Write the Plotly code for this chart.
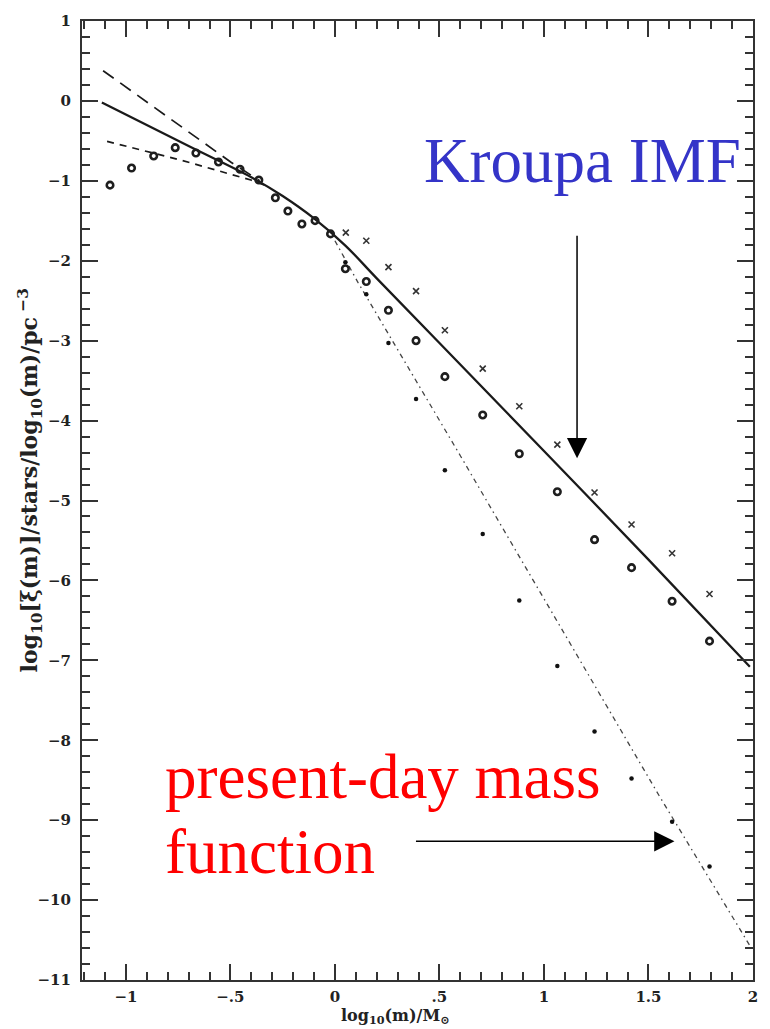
import plotly.graph_objects as go

# ---------------- data ----------------
circ_x = [-1.076, -0.973, -0.867, -0.764, -0.665, -0.557, -0.454, -0.364, -0.285, -0.225,
          -0.158, -0.095, -0.021, 0.05, 0.15, 0.256, 0.388, 0.526, 0.707, 0.882,
          1.064, 1.242, 1.419, 1.613, 1.792]
circ_y = [-1.054, -0.84, -0.689, -0.585, -0.652, -0.764, -0.855, -0.99, -1.212, -1.378,
          -1.54, -1.498, -1.664, -2.10, -2.26, -2.62, -3.0, -3.45, -3.93, -4.415,
          -4.89, -5.49, -5.84, -6.26, -6.76]

cross_x = [0.052, 0.15, 0.256, 0.388, 0.526, 0.707, 0.882, 1.064, 1.242, 1.419, 1.613, 1.792]
cross_y = [-1.648, -1.75, -2.08, -2.38, -2.87, -3.35, -3.82, -4.30, -4.90, -5.30, -5.66, -6.17]

dot_x = [0.05, 0.15, 0.256, 0.388, 0.526, 0.707, 0.882, 1.064, 1.242, 1.419, 1.613, 1.792]
dot_y = [-2.02, -2.42, -3.03, -3.73, -4.62, -5.42, -6.25, -7.07, -7.89, -8.48, -9.02, -9.58]

solid_x = [-1.115, -0.70, -0.40, -0.25, -0.10, 0.05, 0.20, 0.50, 1.0, 1.5, 1.985]
solid_y = [-0.02, -0.565, -0.955, -1.19, -1.47, -1.81, -2.22, -3.03, -4.38, -5.74, -7.08]

longdash_x = [-1.109, -0.497, -0.36]
longdash_y = [0.378, -0.768, -1.0]

shortdash_x = [-1.09, -0.734, -0.402, -0.33]
shortdash_y = [-0.506, -0.743, -0.99, -1.06]

pdmf_x = [0.0, 0.11, 0.6, 1.0, 1.549, 1.985]
pdmf_y = [-1.75, -2.27, -4.44, -6.23, -8.685, -10.57]

x_tickvals = [-1, -0.5, 0, 0.5, 1, 1.5, 2]
x_ticktext = ["\u22121", "\u2212.5", "0", ".5", "1", "1.5", "2"]
y_tickvals = list(range(-11, 2))
y_ticktext = [("\u2212" + str(-v)) if v < 0 else str(v) for v in y_tickvals]

# ---------------- layout geometry ----------------
W, H = 770, 1029
L, R, T, B = 82, 13, 15, 49
PW, PH = W - L - R, H - T - B


def px(xp):
    return (xp - L) / PW


def py(yp):
    return (H - B - yp) / PH


fig = go.Figure()

line_col = "#1a1a1a"
fig.add_trace(go.Scatter(x=longdash_x, y=longdash_y, mode="lines",
                         line=dict(color=line_col, width=1.7, dash="13px,8px"), showlegend=False))
fig.add_trace(go.Scatter(x=shortdash_x, y=shortdash_y, mode="lines",
                         line=dict(color=line_col, width=1.7, dash="7px,6px"), showlegend=False))
fig.add_trace(go.Scatter(x=pdmf_x, y=pdmf_y, mode="lines",
                         line=dict(color="#444444", width=1.3, dash="5px,4px,1.5px,4px"), showlegend=False))
fig.add_trace(go.Scatter(x=solid_x, y=solid_y, mode="lines", line_shape="spline",
                         line=dict(color=line_col, width=2.3), showlegend=False))

fig.add_trace(go.Scatter(x=circ_x, y=circ_y, mode="markers",
                         marker=dict(symbol="circle-open", size=6.5, color="#1e1e1e",
                                     line=dict(width=2.6, color="#1e1e1e")), showlegend=False))
fig.add_trace(go.Scatter(x=cross_x, y=cross_y, mode="markers",
                         marker=dict(symbol="x-thin-open", size=6, color="#333333",
                                     line=dict(width=1.6, color="#333333")), showlegend=False))
fig.add_trace(go.Scatter(x=dot_x, y=dot_y, mode="markers",
                         marker=dict(symbol="circle", size=4.5, color="#111111"), showlegend=False))

tick_font = dict(family="DejaVu Serif", size=15, color="#222222", weight="bold")
axis_common = dict(showline=True, linewidth=2, linecolor="#333333", mirror="ticks",
                   ticks="inside", tickwidth=2, tickcolor="#333333", ticklen=16,
                   showgrid=False, zeroline=False, tickfont=tick_font)

fig.update_layout(
    width=W, height=H, margin=dict(l=L, r=R, t=T, b=B),
    paper_bgcolor="white", plot_bgcolor="white",
    xaxis=dict(range=[-1.21, 2.0], tickmode="array", tickvals=x_tickvals, ticktext=x_ticktext,
               minor=dict(dtick=0.1, tick0=0, ticks="inside", ticklen=8, tickwidth=1.5,
                          tickcolor="#333333"),
               ticklabelstandoff=2, **axis_common),
    yaxis=dict(range=[-11, 1], tickmode="array", tickvals=y_tickvals, ticktext=y_ticktext,
               minor=dict(dtick=0.2, tick0=0, ticks="inside", ticklen=8, tickwidth=1.5,
                          tickcolor="#333333"),
               ticklabelstandoff=6, **axis_common),
)

serif = "Liberation Serif"
annos = [
    dict(text="log<sub>10</sub>[\u03be(m)]/stars/log<sub>10</sub>(m)/pc<sup> \u22123</sup>",
         x=px(30), y=py(477), textangle=-90, xanchor="center", yanchor="middle",
         font=dict(family="DejaVu Serif", size=22, color="#222222", weight="bold")),
    dict(text="log<sub>10</sub>(m)/M<sub>\u2299</sub>", x=px(397), y=py(1017),
         xanchor="center", yanchor="middle",
         font=dict(family="DejaVu Serif", size=16, color="#222222", weight="bold")),
    dict(text="Kroupa IMF", x=px(424), y=py(156), xanchor="left", yanchor="middle",
         font=dict(family=serif, size=63, color="#3434c8")),
    dict(text="present-day mass", x=px(163), y=py(776), xanchor="left", yanchor="middle",
         font=dict(family=serif, size=63, color="#ff0000")),
    dict(text="function", x=px(163), y=py(851), xanchor="left", yanchor="middle",
         font=dict(family=serif, size=63, color="#ff0000")),
    # arrows
    dict(text="", x=px(580), y=py(455), ax=0, ay=-224, showarrow=True,
         arrowhead=2, arrowsize=2.7, arrowwidth=1.5, arrowcolor="#000000", standoff=0),
    dict(text="", x=px(678), y=py(840.5), ax=-260, ay=0, showarrow=True,
         arrowhead=2, arrowsize=2.7, arrowwidth=1.5, arrowcolor="#000000", standoff=0),
]
for a in annos:
    a.setdefault("showarrow", False)
    a["xref"] = "paper"
    a["yref"] = "paper"
    fig.add_annotation(**a)

fig.write_html("out.html")
